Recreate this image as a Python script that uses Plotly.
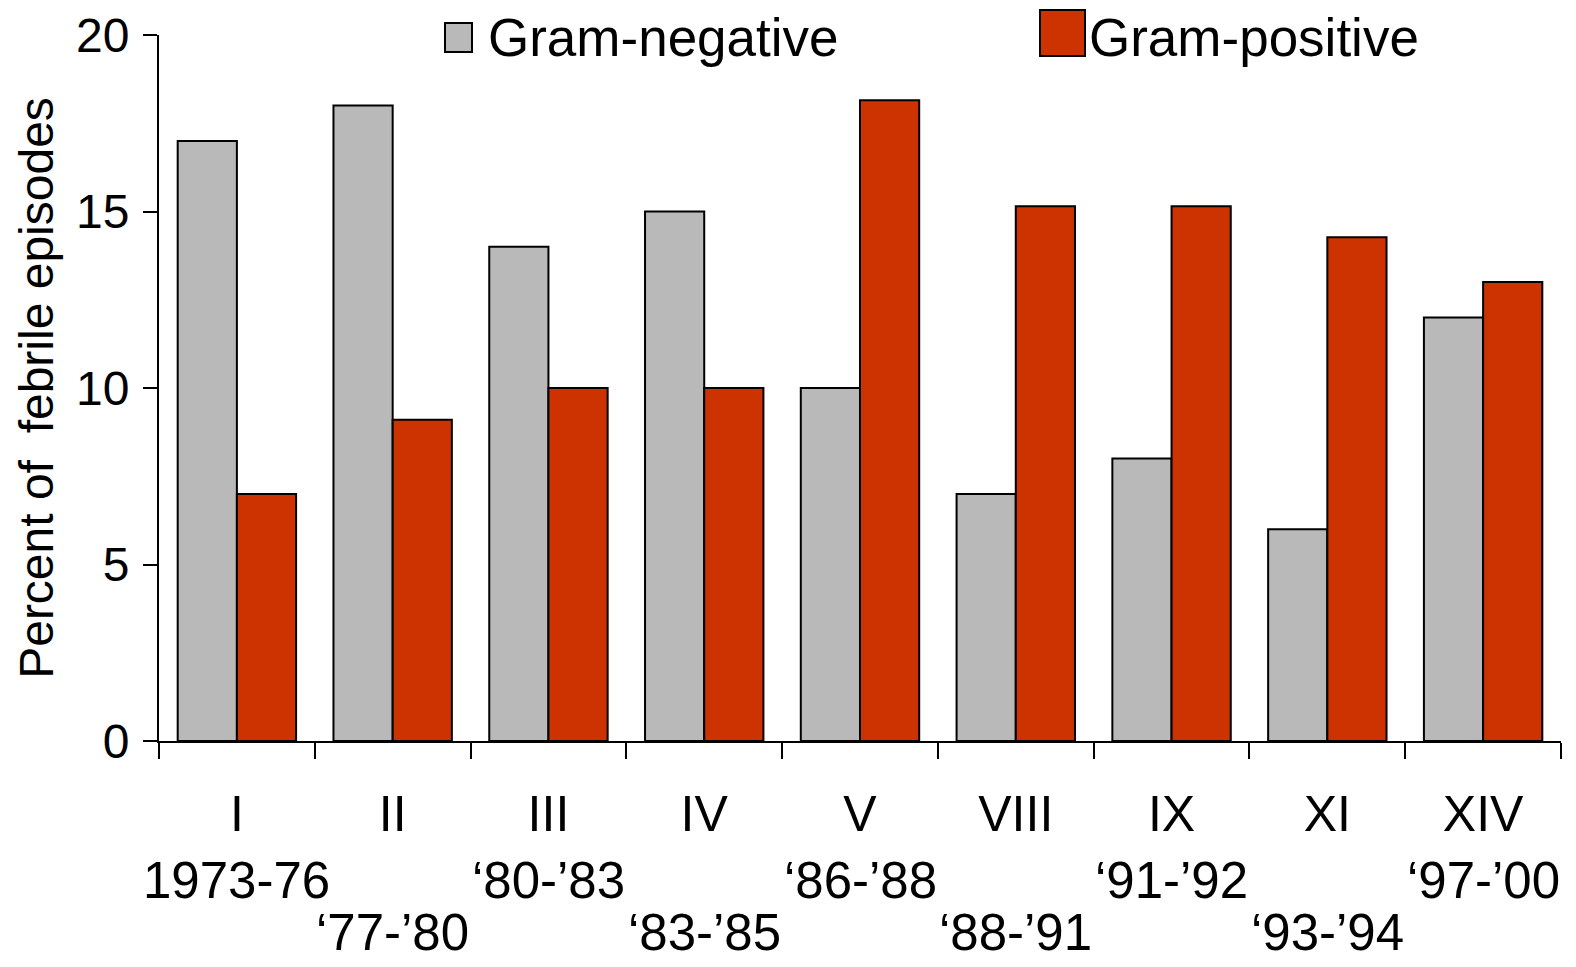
import plotly.graph_objects as go

# ---- data ----
categories = ["I", "II", "III", "IV", "V", "VIII", "IX", "XI", "XIV"]
periods = ["1973-76", "\u201877-\u201980", "\u201880-\u201983", "\u201883-\u201985", "\u201886-\u201988",
           "\u201888-\u201991", "\u201891-\u201992", "\u201893-\u201994", "\u201897-\u201900"]
gram_negative = [17, 18, 14, 15, 10, 7, 8, 6, 12]
gram_positive = [7, 9.1, 10, 10, 18.15, 15.15, 15.15, 14.27, 13]
series_names = ["Gram-negative", "Gram-positive"]
y_ticks = [0, 5, 10, 15, 20]

W, H = 1576, 967
L, R, T, B = 159, 15, 35, 226
PW, PH = W - L - R, H - T - B

def xp(px):
    return (px - L) / PW

def yp(py):
    return (H - B - py) / PH

GRAY = "#b9b9b9"
RED = "#cc3300"
FONT = "Liberation Sans, Arial, sans-serif"

fig = go.Figure()
fig.add_trace(go.Bar(x=categories, y=gram_negative, name=series_names[0],
                     marker=dict(color=GRAY, line=dict(color="black", width=2))))
fig.add_trace(go.Bar(x=categories, y=gram_positive, name=series_names[1],
                     marker=dict(color=RED, line=dict(color="black", width=2))))

annotations = []
for i, (c, p) in enumerate(zip(categories, periods)):
    line_y = 880 if i % 2 == 0 else 933
    annotations.append(dict(x=c, xref="x", y=yp(line_y), yref="paper", text=p,
                            showarrow=False, xanchor="center", yanchor="middle",
                            font=dict(size=51, color="black", family=FONT)))

# manual legend
shapes = [
    dict(type="rect", xref="paper", yref="paper", x0=xp(445), x1=xp(472), y0=yp(52), y1=yp(23),
         fillcolor=GRAY, line=dict(color="black", width=2)),
    dict(type="rect", xref="paper", yref="paper", x0=xp(1040), x1=xp(1085), y0=yp(56), y1=yp(10),
         fillcolor=RED, line=dict(color="black", width=2)),
]
annotations.append(dict(x=xp(486), y=yp(37), xref="paper", yref="paper", text=series_names[0],
                        showarrow=False, xanchor="left", yanchor="middle",
                        font=dict(size=53, color="black", family=FONT)))
annotations.append(dict(x=xp(1087), y=yp(37), xref="paper", yref="paper", text=series_names[1],
                        showarrow=False, xanchor="left", yanchor="middle",
                        font=dict(size=53, color="black", family=FONT)))

fig.update_layout(
    width=W, height=H,
    margin=dict(l=L, r=R, t=T, b=B, autoexpand=False),
    paper_bgcolor="white", plot_bgcolor="white",
    barmode="group", bargap=0.24, bargroupgap=0.0,
    showlegend=False,
    font=dict(family=FONT, color="black"),
    shapes=shapes,
    annotations=annotations,
    xaxis=dict(
        type="category", tickson="boundaries", ticks="outside", ticklen=16, tickwidth=2,
        tickcolor="black", showline=True, linecolor="black", linewidth=2,
        showgrid=False, tickfont=dict(size=50, color="black", family=FONT),
        ticklabelstandoff=28, range=[-0.5, 8.5],
    ),
    yaxis=dict(
        range=[0, 20], tickvals=y_ticks, ticks="outside", ticklen=14, tickwidth=2,
        tickcolor="black", showline=True, linecolor="black", linewidth=2,
        showgrid=False, zeroline=False, tickfont=dict(size=48, color="black", family=FONT),
        ticklabelstandoff=4,
        title=dict(text="Percent of  febrile episodes", standoff=7,
                   font=dict(size=48, color="black", family=FONT)),
    ),
)

fig.write_html("out.html", config={"displayModeBar": False},
               post_script="document.body.style.margin='0';document.body.style.overflow='hidden';")
